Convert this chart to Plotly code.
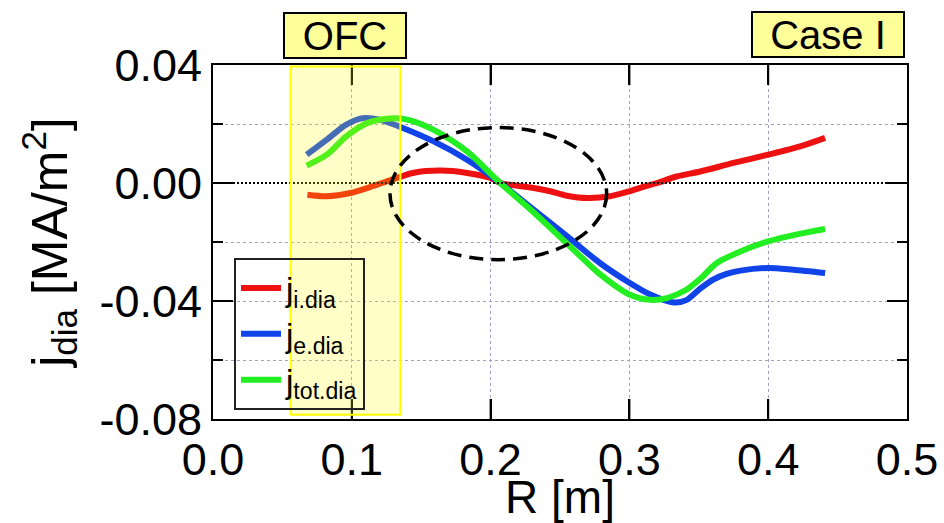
import plotly.graph_objects as go

# ---------------- data ----------------
R_I = [0.068, 0.082, 0.099, 0.115, 0.13, 0.144, 0.164, 0.183, 0.2, 0.207, 0.23, 0.243,
       0.255, 0.27, 0.286, 0.3, 0.31, 0.32, 0.334, 0.351, 0.375, 0.4, 0.423, 0.441]
J_I = [-0.004, -0.0045, -0.0034, -0.0011, 0.0013, 0.0034, 0.0042, 0.0034, 0.0017, 0.0, -0.0016, -0.0028,
       -0.0043, -0.0051, -0.0045, -0.0028, -0.0013, 0.0, 0.0022, 0.0039, 0.0068, 0.0096, 0.0124, 0.0153]

R_E = [0.0675, 0.082, 0.096, 0.108, 0.12, 0.135, 0.159, 0.183, 0.207, 0.23, 0.255,
       0.279, 0.3, 0.315, 0.332, 0.341, 0.351, 0.36, 0.37, 0.38, 0.4, 0.418, 0.441]
J_E = [0.0096, 0.0147, 0.0198, 0.022, 0.0215, 0.019, 0.0141, 0.0079, 0.0, -0.0087, -0.018,
       -0.0272, -0.0338, -0.0378, -0.0405, -0.0397, -0.0358, -0.0328, -0.0308, -0.0297, -0.0288, -0.0294, -0.0305]

R_TOT = [0.0675, 0.082, 0.096, 0.111, 0.125, 0.14, 0.159, 0.183, 0.207, 0.23, 0.255,
         0.279, 0.3, 0.315, 0.327, 0.341, 0.351, 0.363, 0.38, 0.4, 0.42, 0.441]
J_TOT = [0.0059, 0.0096, 0.0158, 0.0203, 0.0218, 0.0215, 0.018, 0.0107, 0.0, -0.0095, -0.0205,
         -0.031, -0.0378, -0.0396, -0.039, -0.0362, -0.0325, -0.0271, -0.0232, -0.0198, -0.0175, -0.0156]

SERIES_NAMES = ["j<sub>i.dia</sub>", "j<sub>e.dia</sub>", "j<sub>tot.dia</sub>"]
SERIES_COLORS = ["#EE1111", "#1144E8", "#22EE22"]

X_TICKS = [0.0, 0.1, 0.2, 0.3, 0.4, 0.5]
X_TICK_LABELS = ["0.0", "0.1", "0.2", "0.3", "0.4", "0.5"]
Y_TICKS = [0.04, 0.0, -0.04, -0.08]
Y_TICK_LABELS = ["0.04", "0.00", "-0.04", "-0.08"]
Y_MINOR_TICKS = [0.02, -0.02, -0.06]

OFC_RANGE = [0.056, 0.135]
ELLIPSE_X = [0.1275, 0.2836]
ELLIPSE_Y = [-0.026, 0.0188]

FONT = "Liberation Sans, Arial, sans-serif"
GRID = "#A0A0C8"
X_RANGE = [0, 0.5]
Y_RANGE = [-0.08, 0.04]

fig = go.Figure()
for rr, jj, nm, col in zip([R_I, R_E, R_TOT], [J_I, J_E, J_TOT], SERIES_NAMES, SERIES_COLORS):
    fig.add_trace(go.Scatter(x=rr, y=jj, mode="lines", name=nm,
                             line=dict(color=col, width=6, shape="spline", smoothing=0.8)))

fig.update_layout(
    template="none",
    xaxis=dict(range=X_RANGE, tickvals=X_TICKS, ticktext=X_TICK_LABELS,
               ticks="inside", ticklen=20, tickwidth=2, tickcolor="black",
               showline=True, linecolor="black", linewidth=2, mirror="allticks",
               zeroline=False, automargin=False,
               showgrid=True, gridcolor=GRID, gridwidth=1, griddash="3px,3px",
               tickfont=dict(family=FONT, size=45, color="black"),
               title=dict(text="R [m]", font=dict(family=FONT, size=46, color="black"), standoff=0)),
    yaxis=dict(range=Y_RANGE, tickvals=Y_TICKS, ticktext=Y_TICK_LABELS,
               ticks="inside", ticklen=20, tickwidth=2, tickcolor="black",
               showline=True, linecolor="black", linewidth=2, mirror="allticks",
               zeroline=True, zerolinecolor="white", zerolinewidth=2, automargin=False,
               showgrid=True, gridcolor=GRID, gridwidth=1, griddash="3px,3px",
               tickfont=dict(family=FONT, size=45, color="black"),
               minor=dict(tickvals=Y_MINOR_TICKS, ticks="inside", ticklen=10,
                          tickwidth=2, tickcolor="black", showgrid=True, gridcolor=GRID,
                          gridwidth=1, griddash="3px,3px"),
               title=dict(text="j<sub>dia</sub> [MA/m<sup>2</sup>]",
                          font=dict(family=FONT, size=50, color="black"), standoff=16)),
)

# tick marks drawn along the frame (inside, mirrored) at the axis tick values
PLOT_W, PLOT_H = 944 - 213 - 37, 523 - 65 - 104
MAJ_X = 20 / PLOT_W
MAJ_Y = 20 / PLOT_H
MIN_X = 10 / PLOT_W
tick_line = dict(color="black", width=2)
for v in X_TICKS:
    if X_RANGE[0] < v < X_RANGE[1]:
        fig.add_shape(type="line", xref="x", yref="paper", x0=v, x1=v, y0=0, y1=MAJ_Y,
                      line=tick_line, layer="above")
        fig.add_shape(type="line", xref="x", yref="paper", x0=v, x1=v, y0=1 - MAJ_Y, y1=1,
                      line=tick_line, layer="above")
for v in Y_TICKS:
    if Y_RANGE[0] < v < Y_RANGE[1]:
        fig.add_shape(type="line", xref="paper", yref="y", x0=0, x1=MAJ_X, y0=v, y1=v,
                      line=tick_line, layer="above")
        fig.add_shape(type="line", xref="paper", yref="y", x0=1 - MAJ_X, x1=1, y0=v, y1=v,
                      line=tick_line, layer="above")
for v in Y_MINOR_TICKS:
    fig.add_shape(type="line", xref="paper", yref="y", x0=0, x1=MIN_X, y0=v, y1=v,
                  line=tick_line, layer="above")
    fig.add_shape(type="line", xref="paper", yref="y", x0=1 - MIN_X, x1=1, y0=v, y1=v,
                  line=tick_line, layer="above")

# zero line (dotted black)
fig.add_shape(type="line", xref="paper", yref="y", x0=0, x1=1, y0=0, y1=0,
              line=dict(color="black", width=2, dash="2px,2px"), layer="above")
# OFC region
fig.add_shape(type="rect", xref="x", yref="y", x0=OFC_RANGE[0], x1=OFC_RANGE[1], y0=-0.0786, y1=0.0395,
              fillcolor="rgba(255,255,0,0.22)", line=dict(color="#FFFF00", width=2), layer="above")
# dashed ellipse
fig.add_shape(type="circle", xref="x", yref="y", x0=ELLIPSE_X[0], x1=ELLIPSE_X[1],
              y0=ELLIPSE_Y[0], y1=ELLIPSE_Y[1],
              line=dict(color="black", width=3.5, dash="14px,8px"), layer="above")

fig.add_annotation(text="OFC", xref="paper", yref="paper", x=0.1906, y=1.084,
                   xanchor="center", yanchor="middle", showarrow=False,
                   font=dict(family=FONT, size=40, color="black"),
                   bgcolor="#FFFF99", bordercolor="black", borderwidth=2, borderpad=1,
                   width=118, height=41)
fig.add_annotation(text="Case I", xref="paper", yref="paper", x=0.8862, y=1.087,
                   xanchor="center", yanchor="middle", showarrow=False,
                   font=dict(family=FONT, size=40, color="black"),
                   bgcolor="#FFFF99", bordercolor="black", borderwidth=2, borderpad=1,
                   width=148, height=41)

fig.update_layout(
    width=944, height=523, autosize=False,
    margin=dict(l=213, r=37, t=65, b=104),
    plot_bgcolor="white", paper_bgcolor="white",
    font=dict(family=FONT, color="black"),
    showlegend=True,
    legend=dict(x=0.0303, y=0.455, xanchor="left", yanchor="top",
                bgcolor="rgba(255,255,255,0)", bordercolor="#222222", borderwidth=2,
                font=dict(family=FONT, size=33, color="black"),
                itemwidth=40, tracegroupgap=0),
)

fig.write_html("out.html", config={"displayModeBar": False},
               post_script="document.body.style.margin='0';document.body.style.overflow='hidden';")
